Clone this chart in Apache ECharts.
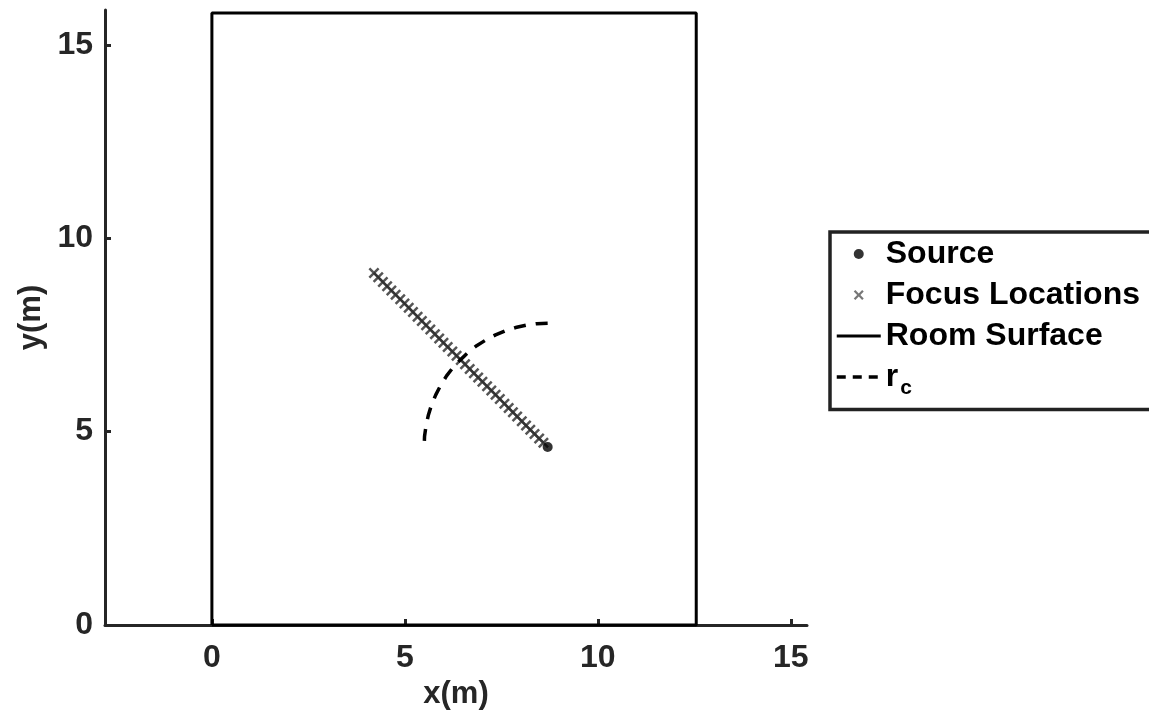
<!DOCTYPE html>
<html>
<head>
<meta charset="utf-8">
<script src="https://cdn.jsdelivr.net/npm/echarts@6/dist/echarts.min.js"></script>
<style>
  html, body { margin: 0; padding: 0; background: #fff; }
  #main { width: 1149px; height: 723px; }
</style>
</head>
<body>
<div id="main"></div>
<script>
// tick labels
var xTicks = [0, 5, 10, 15];
var yTicks = [0, 5, 10, 15];

// source position
var sourceX = [8.7];
var sourceY = [4.6];

// focus locations along the diagonal
var focusX = [4.20, 4.31, 4.43, 4.54, 4.65, 4.76, 4.88, 4.99, 5.10, 5.21,
  5.33, 5.44, 5.55, 5.66, 5.78, 5.89, 6.00, 6.11, 6.23, 6.34,
  6.45, 6.56, 6.68, 6.79, 6.90, 7.01, 7.13, 7.24, 7.35, 7.46,
  7.58, 7.69, 7.80, 7.91, 8.03, 8.14, 8.25, 8.36, 8.48, 8.59];
var focusY = [9.10, 8.99, 8.87, 8.76, 8.65, 8.54, 8.42, 8.31, 8.20, 8.09,
  7.97, 7.86, 7.75, 7.64, 7.52, 7.41, 7.30, 7.19, 7.07, 6.96,
  6.85, 6.74, 6.62, 6.51, 6.40, 6.29, 6.17, 6.06, 5.95, 5.84,
  5.72, 5.61, 5.50, 5.39, 5.27, 5.16, 5.05, 4.94, 4.82, 4.71];

// room outline
var roomX = [0, 0, 12.55, 12.55, 0];
var roomY = [0, 15.82, 15.82, 0, 0];

// critical distance arc (r_c)
var rcX = [8.70, 8.42, 8.14, 7.87, 7.61, 7.35, 7.10, 6.86, 6.64, 6.44,
  6.25, 6.08, 5.93, 5.80, 5.69, 5.61, 5.55, 5.51, 5.50];
var rcY = [7.80, 7.79, 7.75, 7.69, 7.61, 7.50, 7.37, 7.22, 7.05, 6.86,
  6.66, 6.44, 6.20, 5.95, 5.69, 5.43, 5.16, 4.88, 4.60];

function zip (xs, ys) {
  return xs.map(function (x, i) { return [x, ys[i]] })
}

var font = 'Liberation Sans, Arial, Helvetica, sans-serif'
var ink = '#262626'
var crossPath = 'path://M0,1.6L1.6,0L5,3.4L8.4,0L10,1.6L6.6,5L10,8.4L8.4,10L5,6.6L1.6,10L0,8.4L3.4,5Z'

var chart = echarts.init(document.getElementById('main'))

var option = {
  animation: false,
  backgroundColor: '#fff',
  grid: { left: 105, top: 10, width: 702, height: 615 },
  legend: {
    orient: 'vertical',
    left: 830,
    top: 232,
    padding: [6, 30, 11, 5],
    itemWidth: 44,
    itemHeight: 10,
    itemGap: 9,
    borderColor: '#222',
    borderWidth: 3.5,
    textStyle: {
      fontFamily: font,
      fontWeight: 'bold',
      fontSize: 32,
      color: '#000',
      rich: {
        r: { fontFamily: font, fontWeight: 'bold', fontSize: 32, color: '#000' },
        c: { fontFamily: font, fontWeight: 'bold', fontSize: 21, color: '#000', padding: [22, 0, 0, 2] }
      }
    },
    formatter: function (name) {
      return name === 'rc' ? '{r|r}{c|c}' : name
    },
    data: [
      { name: 'Source', icon: 'circle' },
      { name: 'Focus Locations', icon: crossPath, itemStyle: { color: '#555' } },
      { name: 'Room Surface', itemStyle: { opacity: 0 }, lineStyle: { width: 3 } },
      { name: 'rc', itemStyle: { opacity: 0 }, lineStyle: { width: 3.5, type: [9, 7] } }
    ]
  },
  xAxis: {
    type: 'value',
    min: -2.77,
    max: 15.42,
    name: 'x(m)',
    nameLocation: 'middle',
    nameGap: 50,
    nameTextStyle: { fontFamily: font, fontWeight: 'bold', fontSize: 31, color: ink },
    axisLine: { onZero: false, lineStyle: { color: ink, width: 3 } },
    axisTick: { inside: true, length: 6, lineStyle: { color: ink, width: 3 }, customValues: xTicks },
    axisLabel: { margin: 17, fontFamily: font, fontWeight: 'bold', fontSize: 32, color: ink, customValues: xTicks },
    splitLine: { show: false }
  },
  yAxis: {
    type: 'value',
    min: 0,
    max: 15.9,
    name: 'y(m)',
    nameLocation: 'middle',
    nameGap: 58,
    nameRotate: 90,
    nameTextStyle: { fontFamily: font, fontWeight: 'bold', fontSize: 31, color: ink },
    axisLine: { onZero: false, lineStyle: { color: ink, width: 3 } },
    axisTick: { inside: true, length: 6, lineStyle: { color: ink, width: 3 }, customValues: yTicks },
    axisLabel: { margin: 12, fontFamily: font, fontWeight: 'bold', fontSize: 32, color: ink, customValues: yTicks },
    splitLine: { show: false }
  },
  series: [
    {
      name: 'Room Surface',
      type: 'line',
      data: zip(roomX, roomY),
      symbol: 'none',
      clip: false,
      lineStyle: { color: '#000', width: 3 },
      itemStyle: { color: '#000' },
      z: 2
    },
    {
      name: 'Focus Locations',
      type: 'scatter',
      data: zip(focusX, focusY),
      symbol: crossPath,
      symbolSize: 11,
      itemStyle: { color: '#2a2a2a' },
      z: 3
    },
    {
      name: 'rc',
      type: 'line',
      data: zip(rcX, rcY),
      symbol: 'none',
      lineStyle: { color: '#000', width: 3.5, type: [12, 10] },
      itemStyle: { color: '#000' },
      z: 4
    },
    {
      name: 'Source',
      type: 'scatter',
      data: zip(sourceX, sourceY),
      symbol: 'circle',
      symbolSize: 10,
      itemStyle: { color: '#000' },
      z: 5
    }
  ]
}

chart.setOption(option)
</script>
</body>
</html>
